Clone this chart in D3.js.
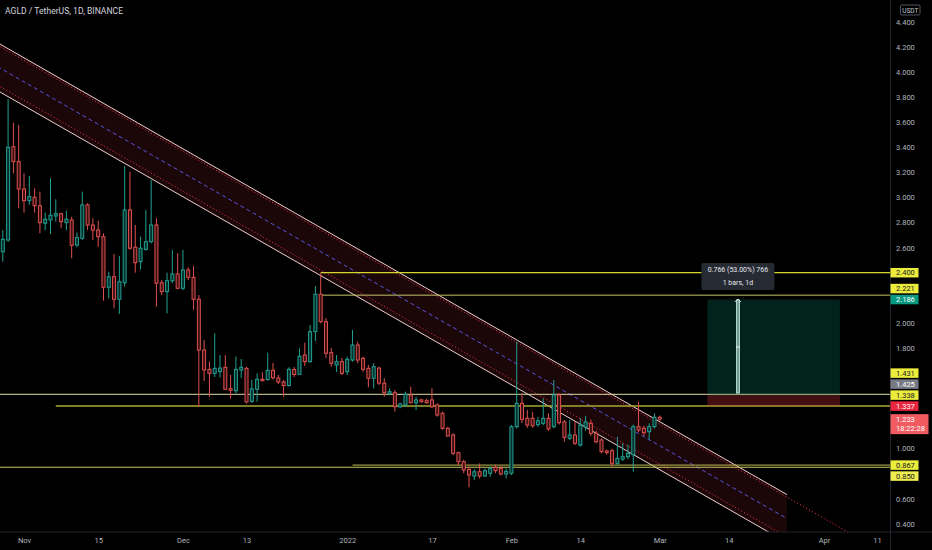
<!DOCTYPE html>
<html>
<head>
  <script src="https://d3js.org/d3.v7.min.js"></script>
  <style>
    body {
      margin: 0;
      background-color: #000;
      overflow: hidden;
    }
    text {
      font-family: Roboto, "Noto Sans", sans-serif;
      user-select: none;
    }
  </style>
</head>
<body>
<script>
  // daily candles, first one on 28 Oct 2021
  const firstDay = Date.UTC(2021, 9, 28);
  const DAY = 864e5;

  const opens = [
    2.567, 2.660, 3.404, 3.285, 3.067, 2.974, 3.001, 2.934, 2.794, 2.820,
    2.852, 2.870, 2.799, 2.820, 2.621, 2.674, 2.940, 2.780, 2.740, 2.687,
    2.284, 2.368, 2.188, 2.320, 2.900, 2.603, 2.488, 2.586, 2.647, 2.780,
    2.320, 2.249, 2.336, 2.390, 2.276, 2.422, 2.363, 2.188, 1.784, 1.630,
    1.598, 1.612, 1.646, 1.476, 1.460, 1.625, 1.638, 1.375, 1.471, 1.551,
    1.548, 1.622, 1.561, 1.529, 1.501, 1.628, 1.590, 1.744, 1.691, 1.930,
    2.228, 2.010, 1.763, 1.665, 1.691, 1.611, 1.704, 1.824, 1.718, 1.638,
    1.559, 1.640, 1.520, 1.439, 1.444, 1.332, 1.346, 1.425, 1.364, 1.386,
    1.380, 1.386, 1.346, 1.280, 1.160, 1.107, 0.966, 0.894, 0.833, 0.780,
    0.814, 0.780, 0.802, 0.849, 0.841, 0.796, 0.802, 1.173, 1.359, 1.240,
    1.240, 1.190, 1.200, 1.240, 1.173, 1.426, 1.212, 1.080, 1.107, 1.027,
    1.170, 1.200, 1.120, 1.067, 0.979, 0.982, 0.881, 0.915, 0.934, 0.950,
    1.173, 1.160, 1.133, 1.173, 1.248
  ];
  const highs = [
    2.740, 3.782, 3.595, 3.577, 3.192, 3.171, 3.073, 3.046, 2.878, 3.152,
    2.985, 2.878, 2.894, 2.846, 2.719, 3.046, 2.953, 2.834, 2.814, 2.714,
    2.408, 2.550, 2.533, 3.250, 3.205, 2.780, 2.687, 2.900, 3.139, 2.834,
    2.342, 2.400, 2.581, 2.555, 2.581, 2.443, 2.453, 2.222, 1.864, 1.692,
    1.917, 1.744, 1.744, 1.585, 1.731, 1.712, 1.651, 1.545, 1.598, 1.607,
    1.763, 1.681, 1.585, 1.545, 1.646, 1.648, 1.798, 1.842, 1.983, 2.294,
    2.397, 2.039, 1.800, 1.744, 1.720, 1.731, 1.944, 1.850, 1.731, 1.664,
    1.678, 1.651, 1.560, 1.479, 1.465, 1.364, 1.452, 1.492, 1.412, 1.396,
    1.396, 1.479, 1.359, 1.293, 1.173, 1.120, 0.974, 0.908, 0.854, 0.833,
    0.881, 0.841, 0.854, 0.870, 0.860, 0.841, 1.186, 1.850, 1.439, 1.306,
    1.290, 1.250, 1.399, 1.280, 1.545, 1.440, 1.226, 1.226, 1.213, 1.240,
    1.260, 1.230, 1.140, 1.080, 0.990, 0.995, 1.093, 1.040, 1.030, 1.190,
    1.372, 1.180, 1.200, 1.280, 1.262
  ];
  const lows = [
    2.488, 2.647, 3.192, 2.913, 2.878, 2.940, 2.878, 2.714, 2.740, 2.708,
    2.807, 2.754, 2.740, 2.515, 2.603, 2.661, 2.740, 2.661, 2.607, 2.177,
    2.196, 2.116, 2.071, 2.289, 2.581, 2.400, 2.427, 2.575, 2.634, 2.129,
    2.222, 2.077, 2.316, 2.268, 2.262, 2.342, 2.103, 1.330, 1.537, 1.410,
    1.569, 1.565, 1.465, 1.399, 1.439, 1.561, 1.359, 1.362, 1.372, 1.532,
    1.540, 1.548, 1.513, 1.412, 1.493, 1.569, 1.585, 1.657, 1.683, 1.856,
    1.997, 1.718, 1.651, 1.609, 1.585, 1.585, 1.691, 1.678, 1.611, 1.487,
    1.479, 1.505, 1.412, 1.425, 1.293, 1.320, 1.332, 1.359, 1.306, 1.364,
    1.356, 1.320, 1.253, 1.147, 1.093, 0.947, 0.868, 0.802, 0.690, 0.748,
    0.761, 0.774, 0.774, 0.802, 0.785, 0.761, 0.788, 1.160, 1.202, 1.163,
    1.165, 1.170, 1.185, 1.140, 1.160, 1.190, 1.053, 1.067, 1.027, 1.013,
    1.140, 1.100, 1.040, 0.960, 0.950, 0.854, 0.868, 0.900, 0.915, 0.814,
    1.130, 1.100, 1.070, 1.160, 1.220
  ];
  const closes = [
    2.666, 3.399, 3.285, 3.067, 2.974, 3.006, 2.934, 2.799, 2.826, 2.858,
    2.870, 2.807, 2.826, 2.618, 2.679, 2.940, 2.780, 2.740, 2.687, 2.284,
    2.368, 2.188, 2.328, 2.900, 2.595, 2.480, 2.595, 2.647, 2.780, 2.316,
    2.249, 2.336, 2.390, 2.276, 2.422, 2.363, 2.188, 1.784, 1.625, 1.598,
    1.638, 1.640, 1.471, 1.463, 1.630, 1.646, 1.370, 1.474, 1.551, 1.540,
    1.622, 1.563, 1.529, 1.501, 1.630, 1.589, 1.734, 1.691, 1.930, 2.228,
    2.010, 1.758, 1.678, 1.691, 1.598, 1.710, 1.824, 1.704, 1.630, 1.559,
    1.651, 1.520, 1.444, 1.452, 1.332, 1.354, 1.431, 1.364, 1.386, 1.372,
    1.364, 1.332, 1.266, 1.160, 1.099, 0.961, 0.894, 0.828, 0.788, 0.814,
    0.780, 0.822, 0.841, 0.822, 0.796, 0.817, 1.173, 1.359, 1.232, 1.186,
    1.180, 1.220, 1.240, 1.155, 1.426, 1.205, 1.088, 1.107, 1.041, 1.186,
    1.210, 1.120, 1.053, 0.974, 0.966, 0.881, 0.921, 0.934, 0.960, 1.173,
    1.147, 1.125, 1.173, 1.248, 1.233
  ];

  const priceTicks = [0.4, 0.6, 0.8, 1.0, 1.2, 1.4, 1.6, 1.8, 2.0, 2.2, 2.4,
                      2.6, 2.8, 3.0, 3.2, 3.4, 3.6, 3.8, 4.0, 4.2, 4.4];
  const timeTicks = [
    Date.UTC(2021, 10, 1), Date.UTC(2021, 10, 15), Date.UTC(2021, 11, 1),
    Date.UTC(2021, 11, 13), Date.UTC(2022, 0, 1), Date.UTC(2022, 0, 17),
    Date.UTC(2022, 1, 1), Date.UTC(2022, 1, 14), Date.UTC(2022, 2, 1),
    Date.UTC(2022, 2, 14), Date.UTC(2022, 3, 1), Date.UTC(2022, 3, 11)
  ];
  const timeTickLabels = ["Nov", "15", "Dec", "13", "2022", "17", "Feb", "14", "Mar", "14", "Apr", "11"];

  // descending channel (two anchor dates)
  const channelDates = [Date.UTC(2021, 9, 27), Date.UTC(2022, 2, 25)];
  const channelUpper = [4.233, 0.632];
  const channelMiddle = [4.042, 0.441];
  const channelLower = [3.851, 0.250];
  const dottedUpper = [4.213, 0.612];
  const dottedLower = [3.895, 0.294];
  const dottedEnd = Date.UTC(2022, 4, 1);

  // horizontal levels
  const levelPrices = [2.400, 2.221, 1.431, 1.338, 0.867, 0.850];
  const levelStarts = [
    Date.UTC(2021, 11, 27), Date.UTC(2021, 11, 27), Date.UTC(2021, 9, 1),
    Date.UTC(2021, 10, 7), Date.UTC(2022, 0, 2), Date.UTC(2021, 9, 1)
  ];
  const levelColors = ["#d6d62c", "#c4c46a", "#dcdca6", "#a9a935", "#bcbc55", "#c9c965"];
  const levelWidths = [1.3, 1, 1, 1.4, 1, 1.2];

  // long position tool
  const entryPrice = 1.425;
  const targetPrice = 2.186;
  const stopPrice = 1.337;
  const positionDates = [Date.UTC(2022, 2, 10), Date.UTC(2022, 3, 4)];
  const rangeDate = Date.UTC(2022, 2, 15, 18);
  const rangeTop = 2.191;
  const rangeText = ["0.766 (53.00%) 766", "1 bars, 1d"];

  const countdown = "18:22:28";

  const width = 932, height = 550;
  const plotRight = 890.5, plotBottom = 532;

  const x = d3.scaleUtc()
    .domain([Date.UTC(2021, 10, 1), Date.UTC(2022, 3, 1)])
    .range([24, 824]);
  const y = d3.scaleLinear()
    .domain([0.4, 4.4])
    .range([523.7, 21.7]);

  const svg = d3.select("body").append("svg")
    .attr("width", width)
    .attr("height", height)
    .style("background", "#000");

  svg.append("clipPath").attr("id", "plot")
    .append("rect").attr("x", 0).attr("y", 0)
    .attr("width", plotRight).attr("height", plotBottom);

  const plot = svg.append("g").attr("clip-path", "url(#plot)");

  // channel fill + lines
  const lineAt = (dates, prices) => d3.scaleUtc().domain(dates).range(prices);
  const upAt = lineAt(channelDates, channelUpper);
  const loAt = lineAt(channelDates, channelLower);

  plot.append("path")
    .attr("d", d3.line()([
      [x(channelDates[0]), y(channelUpper[0])],
      [x(channelDates[1]), y(channelUpper[1])],
      [x(channelDates[1]), y(channelLower[1])],
      [x(channelDates[0]), y(channelLower[0])]
    ]))
    .attr("fill", "rgba(242,54,69,0.11)");

  const dUp = lineAt(channelDates, dottedUpper);
  const dLo = lineAt(channelDates, dottedLower);
  [dUp, dLo].forEach(f => {
    plot.append("line")
      .attr("x1", x(channelDates[0])).attr("y1", y(f(channelDates[0])))
      .attr("x2", x(dottedEnd)).attr("y2", y(f(dottedEnd)))
      .attr("stroke", "#e0303c")
      .attr("stroke-width", 1)
      .attr("stroke-dasharray", "1.2,2.2");
  });

  [[channelUpper, "#f0cfcf", null], [channelLower, "#f0cfcf", null], [channelMiddle, "#5a55e0", "4,3"]]
    .forEach(([p, c, dash]) => {
      plot.append("line")
        .attr("x1", x(channelDates[0])).attr("y1", y(p[0]))
        .attr("x2", x(channelDates[1])).attr("y2", y(p[1]))
        .attr("stroke", c)
        .attr("stroke-width", 1)
        .attr("stroke-dasharray", dash);
    });

  // horizontal levels
  levelPrices.forEach((p, i) => {
    plot.append("line")
      .attr("x1", x(levelStarts[i])).attr("x2", plotRight)
      .attr("y1", y(p)).attr("y2", y(p))
      .attr("stroke", levelColors[i])
      .attr("stroke-width", levelWidths[i]);
  });

  // position tool
  const px0 = x(positionDates[0]), px1 = x(positionDates[1]);
  plot.append("rect")
    .attr("x", px0).attr("width", px1 - px0)
    .attr("y", y(targetPrice)).attr("height", y(entryPrice) - y(targetPrice))
    .attr("fill", "rgba(8,153,129,0.22)");
  plot.append("rect")
    .attr("x", px0).attr("width", px1 - px0)
    .attr("y", y(entryPrice)).attr("height", y(stopPrice) - y(entryPrice))
    .attr("fill", "rgba(242,54,69,0.28)");

  const ax = x(rangeDate);
  plot.append("rect")
    .attr("x", ax - 1.5).attr("width", 3)
    .attr("y", y(rangeTop) + 1).attr("height", y(entryPrice) - y(rangeTop) - 3)
    .attr("fill", "#6f9f95")
    .attr("stroke", "#cfe9e3")
    .attr("stroke-width", 0.8);
  plot.append("path")
    .attr("d", d3.line()([[ax - 3, y(rangeTop) + 3], [ax, y(rangeTop)], [ax + 3, y(rangeTop) + 3]]))
    .attr("fill", "none").attr("stroke", "#cfe9e3").attr("stroke-width", 1);
  plot.append("line")
    .attr("x1", ax - 2).attr("x2", ax + 2)
    .attr("y1", (y(rangeTop) + y(entryPrice)) / 2).attr("y2", (y(rangeTop) + y(entryPrice)) / 2)
    .attr("stroke", "#e6f4f1").attr("stroke-width", 1);

  const tipBottom = y(rangeTop) - 9;
  plot.append("rect")
    .attr("x", ax - 36.5).attr("width", 73)
    .attr("y", tipBottom - 27).attr("height", 27)
    .attr("rx", 2)
    .attr("fill", "#262a33");
  rangeText.forEach((t, i) => {
    plot.append("text")
      .attr("x", ax).attr("y", tipBottom - 27 + 9.5 + i * 12.5)
      .attr("text-anchor", "middle")
      .attr("font-size", 7)
      .attr("fill", "#e6e8ee")
      .text(t);
  });

  // candles
  const candles = closes.map((c, i) => ({
    t: firstDay + i * DAY, o: opens[i], h: highs[i], l: lows[i], c: c
  }));
  const up = "#22a094", down = "#e0504f";
  const cg = plot.append("g");
  cg.selectAll("line").data(candles).enter().append("line")
    .attr("x1", d => x(d.t)).attr("x2", d => x(d.t))
    .attr("y1", d => y(d.h)).attr("y2", d => y(d.l))
    .attr("stroke", d => d.c >= d.o ? up : down)
    .attr("stroke-width", 1);
  cg.selectAll("rect").data(candles).enter().append("rect")
    .attr("x", d => x(d.t) - 1.5)
    .attr("width", 3)
    .attr("y", d => y(Math.max(d.o, d.c)))
    .attr("height", d => Math.max(0.6, Math.abs(y(d.o) - y(d.c))))
    .attr("fill", d => d.c >= d.o ? "#07302b" : "#3a1213")
    .attr("stroke", d => d.c >= d.o ? up : down)
    .attr("stroke-width", 1);

  // axes frame
  svg.append("line")
    .attr("x1", 0).attr("x2", width).attr("y1", plotBottom).attr("y2", plotBottom)
    .attr("stroke", "#22252d");
  svg.append("line")
    .attr("x1", plotRight).attr("x2", plotRight).attr("y1", 0).attr("y2", height)
    .attr("stroke", "#22252d");

  // price labels on the right scale
  const lastPrice = closes[closes.length - 1];
  const labels = [
    { p: levelPrices[0], bg: "#ecec3c", fg: "#131722" },
    { p: levelPrices[1], bg: "#ecec3c", fg: "#131722" },
    { p: targetPrice, bg: "#089981", fg: "#ffffff" },
    { p: levelPrices[2], bg: "#ecec3c", fg: "#131722" },
    { p: entryPrice, bg: "#787b86", fg: "#ffffff" },
    { p: levelPrices[3], bg: "#ecec3c", fg: "#131722" },
    { p: stopPrice, bg: "#e8263f", fg: "#ffffff" },
    { p: levelPrices[4], bg: "#ecec3c", fg: "#131722" },
    { p: levelPrices[5], bg: "#f0ec50", fg: "#131722" }
  ];
  const lh = 9.5, gap = 1.5;
  const curY = y(lastPrice);
  const curTop = curY - 5, curBottom = curY + 15;
  let prev = curTop;
  labels.filter(d => y(d.p) < curY).sort((a, b) => y(b.p) - y(a.p)).forEach(d => {
    d.cy = Math.min(y(d.p), prev - gap - lh / 2);
    prev = d.cy - lh / 2;
  });
  prev = curBottom;
  labels.filter(d => y(d.p) >= curY).sort((a, b) => y(a.p) - y(b.p)).forEach(d => {
    d.cy = Math.max(y(d.p), prev + gap + lh / 2);
    prev = d.cy + lh / 2;
  });

  const fmt = d3.format(".3f");
  const visibleTicks = priceTicks.filter(t => {
    const ty = y(t);
    if (ty > curTop - 4 && ty < curBottom + 4) return false;
    return !labels.some(d => Math.abs(d.cy - ty) < lh);
  });

  const yAxis = svg.append("g")
    .attr("transform", `translate(${plotRight},0)`)
    .call(d3.axisRight(y).tickValues(visibleTicks).tickFormat(fmt).tickSize(0).tickPadding(5.5));
  yAxis.select(".domain").remove();
  yAxis.selectAll("text").attr("fill", "#b2b5be").attr("font-size", 7.5)
    .attr("font-family", "Roboto, sans-serif");

  const xAxis = svg.append("g")
    .attr("transform", `translate(0,${plotBottom})`)
    .call(d3.axisBottom(x).tickValues(timeTicks).tickFormat((d, i) => timeTickLabels[i]).tickSize(0).tickPadding(6));
  xAxis.select(".domain").remove();
  xAxis.selectAll("text").attr("fill", "#b2b5be").attr("font-size", 7.5)
    .attr("font-family", "Roboto, sans-serif");

  const lg = svg.append("g");
  labels.forEach(d => {
    lg.append("rect")
      .attr("x", plotRight).attr("width", 28)
      .attr("y", d.cy - lh / 2).attr("height", lh)
      .attr("fill", d.bg);
    lg.append("text")
      .attr("x", plotRight + 5.5).attr("y", d.cy)
      .attr("dy", "0.36em")
      .attr("font-size", 7.5)
      .attr("fill", d.fg)
      .text(fmt(d.p));
  });

  lg.append("rect")
    .attr("x", plotRight).attr("width", 38)
    .attr("y", curTop).attr("height", curBottom - curTop)
    .attr("fill", "#ef5b60");
  lg.append("text")
    .attr("x", plotRight + 5.5).attr("y", curY).attr("dy", "0.36em")
    .attr("font-size", 7.5).attr("fill", "#fff")
    .text(fmt(lastPrice));
  lg.append("text")
    .attr("x", plotRight + 5.5).attr("y", curY + 9.5).attr("dy", "0.36em")
    .attr("font-size", 7.5).attr("fill", "#fff")
    .text(countdown);

  // currency box
  svg.append("rect")
    .attr("x", 900.5).attr("y", 5).attr("width", 19.5).attr("height", 10)
    .attr("rx", 1.5)
    .attr("fill", "none").attr("stroke", "#6a6d78").attr("stroke-width", 0.8);
  svg.append("text")
    .attr("x", 910.25).attr("y", 12.6)
    .attr("text-anchor", "middle")
    .attr("font-size", 6.5).attr("fill", "#c4c7cf")
    .text("USDT");

  // title
  svg.append("text")
    .attr("x", 5).attr("y", 13.8)
    .attr("font-size", 8.6)
    .attr("fill", "#d1d4dc")
    .text("AGLD / TetherUS, 1D, BINANCE");
</script>
</body>
</html>
